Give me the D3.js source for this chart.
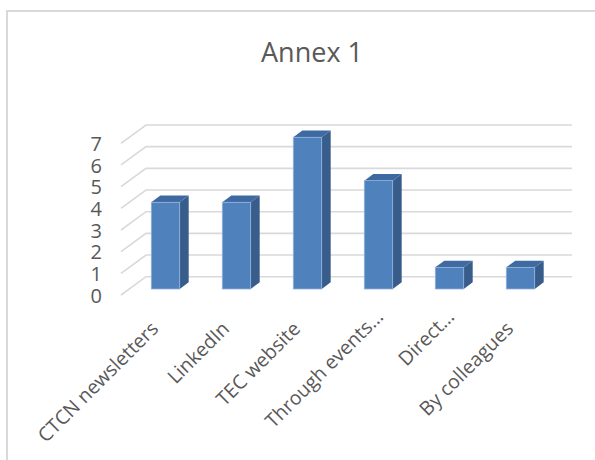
<!DOCTYPE html>
<html>
<head>
<meta charset="utf-8">
<script src="https://cdn.jsdelivr.net/npm/d3@7"></script>
<style>
  html, body { margin: 0; padding: 0; background: #fff; }
  svg { display: block; font-family: "Open Sans", sans-serif; }
</style>
</head>
<body>
<div id="chart"></div>
<script>
// data
const categories = ["CTCN newsletters", "LinkedIn", "TEC website", "Through events\u2026", "Direct\u2026", "By colleagues"];
const values = [4, 4, 7, 5, 1, 1];
const yTicks = [0, 1, 2, 3, 4, 5, 6, 7];
const title = "Annex 1";

const W = 595, H = 460;

// oblique 3d offsets
const wallDepth = {dx: -25, dy: 18.3};   // back wall -> front edge of floor
const barDepth = {dx: 9, dy: -6.7};      // bar front -> bar back

const svg = d3.select("#chart").append("svg")
    .attr("width", W)
    .attr("height", H);

// chart area border (cut off at right and bottom)
svg.append("path")
    .attr("d", "M7,470 L7,11 L600,11")
    .attr("fill", "none")
    .attr("stroke", "#d9d9d9")
    .attr("stroke-width", 2);

svg.append("text")
    .attr("x", 312)
    .attr("y", 62)
    .attr("text-anchor", "middle")
    .style("font-size", "27px")
    .style("fill", "#595959")
    .text(title);

// scales
var yBack = d3.scaleLinear().domain([0, 7]).range([276.7, 125]);
var yBar = d3.scaleLinear().domain([0, 7]).range([289, 137.3]);
var yFront = d3.scaleLinear().domain([0, 7]).range([295, 143.3]);
var x = d3.scaleBand()
    .domain(categories)
    .range([130, 556])
    .paddingInner(0.6)
    .paddingOuter(0.3);

var wallLeft = 146, wallRight = 572;

// gridlines: back wall + side diagonal
var grid = svg.append("g").attr("class", "grid")
    .attr("stroke", "#d9d9d9")
    .attr("stroke-width", 1.6)
    .attr("fill", "none");

grid.selectAll("path")
    .data(yTicks)
    .enter().append("path")
    .attr("d", function(d) {
      var yb = yBack(d);
      return "M" + wallRight + "," + yb + " L" + wallLeft + "," + yb +
             " L" + (wallLeft + wallDepth.dx) + "," + (yb + wallDepth.dy);
    });

// y axis labels
var yAxis = d3.axisLeft(yFront)
    .tickValues(yTicks)
    .tickFormat(d3.format("d"))
    .tickSize(0)
    .tickPadding(0);
svg.append("g")
    .attr("class", "axis y-axis")
    .attr("transform", "translate(102,0)")
    .call(yAxis)
    .call(function(g) { g.select(".domain").remove(); })
    .call(function(g) {
      g.selectAll("text")
        .attr("x", 0)
        .attr("dy", "0.36em")
        .style("font-size", "20px")
        .style("font-family", "Open Sans, sans-serif")
        .style("fill", "#595959");
    });

// bars
var bars = svg.append("g").attr("class", "bars")
    .selectAll("g")
    .data(categories.map(function(c, i) { return {cat: c, val: values[i]}; }))
    .enter().append("g");

var bw = x.bandwidth();

// side
bars.append("path")
    .attr("fill", "#385d8a")
    .attr("d", function(d) {
      var x1 = x(d.cat) + bw, yt = yBar(d.val), yb = yBar(0);
      return "M" + x1 + "," + yt +
             " L" + (x1 + barDepth.dx) + "," + (yt + barDepth.dy) +
             " L" + (x1 + barDepth.dx) + "," + (yb + barDepth.dy) +
             " L" + x1 + "," + yb + "Z";
    });

// top
bars.append("path")
    .attr("fill", "#3e6aa1")
    .attr("d", function(d) {
      var x0 = x(d.cat), yt = yBar(d.val);
      return "M" + x0 + "," + yt +
             " L" + (x0 + bw) + "," + yt +
             " L" + (x0 + bw + barDepth.dx) + "," + (yt + barDepth.dy) +
             " L" + (x0 + barDepth.dx) + "," + (yt + barDepth.dy) + "Z";
    });

// front
bars.append("rect")
    .attr("x", function(d) { return x(d.cat); })
    .attr("y", function(d) { return yBar(d.val); })
    .attr("width", bw)
    .attr("height", function(d) { return yBar(0) - yBar(d.val); })
    .attr("fill", "#4f81bd")
    .attr("stroke", "#8fb2dc")
    .attr("stroke-width", 0.8);

// category labels, rotated; truncated ones sit a bit further along the slope
svg.append("g")
    .attr("class", "x-labels")
    .selectAll("text")
    .data(categories)
    .enter().append("text")
    .attr("transform", function(d) {
      return "translate(" + (x(d) + bw / 2 - 6) + ",330) rotate(-45)";
    })
    .attr("dx", function(d) { return d.slice(-1) === "\u2026" ? 17 : 0; })
    .attr("text-anchor", "end")
    .style("font-size", "19.5px")
    .style("fill", "#595959")
    .text(function(d) { return d; });
</script>
</body>
</html>
